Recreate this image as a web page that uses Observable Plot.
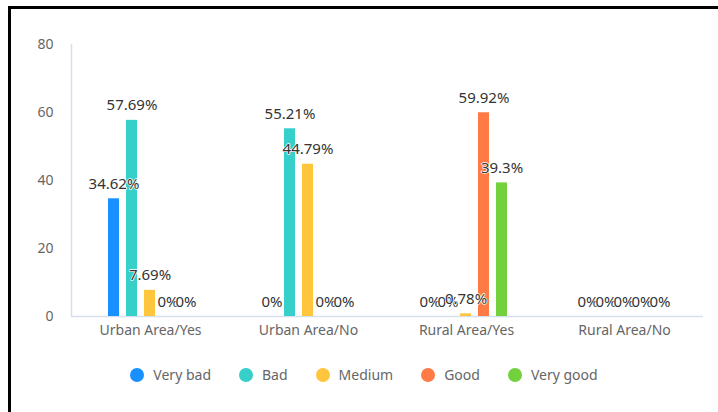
<!DOCTYPE html>
<html>
<head>
<meta charset="utf-8">
<script src="https://cdn.jsdelivr.net/npm/d3@7"></script>
<script src="https://cdn.jsdelivr.net/npm/@observablehq/plot@0.6"></script>
<style>
  html, body { margin: 0; padding: 0; background: #fff; }
  #wrap { position: relative; width: 718px; height: 412px; overflow: hidden; font-family: "Noto Sans", sans-serif; }
  #border { position: absolute; left: 8px; top: 6px; right: -10px; bottom: -10px; border-top: 3px solid #000; border-left: 3px solid #000; }
  #chart { position: absolute; left: 0; top: 0; }
  #legend { position: absolute; left: 10px; top: 365px; width: 708px; display: flex; justify-content: center; align-items: center; font-size: 14px; color: #666; }
  .item { display: flex; align-items: center; margin: 0 14px; }
  .sw { width: 14px; height: 14px; border-radius: 50%; margin-right: 9px; }
</style>
</head>
<body>
<div id="wrap">
  <div id="border"></div>
  <div id="chart"></div>
  <div id="legend"></div>
</div>
<script>
const groups = ["Urban Area/Yes", "Urban Area/No", "Rural Area/Yes", "Rural Area/No"];
const series = ["Very bad", "Bad", "Medium", "Good", "Very good"];
const colors = ["#1890ff", "#36cfc9", "#ffc53d", "#ff7a45", "#73d13d"];
const veryBad = [34.62, 0, 0, 0];
const bad = [57.69, 55.21, 0, 0];
const medium = [7.69, 44.79, 0.78, 0];
const good = [0, 0, 59.92, 0];
const veryGood = [0, 0, 39.3, 0];
const yTicks = [0, 20, 40, 60, 80];

const seriesValues = [veryBad, bad, medium, good, veryGood];
const data = groups.flatMap((g, i) => series.map((s, j) => ({group: g, series: s, value: seriesValues[j][i]})));

const chart = Plot.plot({
  width: 718,
  height: 350,
  marginTop: 44,
  marginBottom: 34,
  marginLeft: 69,
  marginRight: 14,
  style: {fontFamily: "'Noto Sans', sans-serif", fontSize: "14px", background: "transparent", overflow: "visible"},
  fx: {domain: groups, padding: 0, label: null, axis: null},
  x: {domain: series, axis: null, paddingInner: 0.368, paddingOuter: 1.868},
  y: {domain: [0, 80], axis: null},
  color: {domain: series, range: colors},
  marks: [
    Plot.ruleY([0], {stroke: "#d6def0", strokeWidth: 1.5}),
    Plot.frame({anchor: "left", facetAnchor: "left", stroke: "#d6def0", strokeWidth: 1.5}),
    Plot.axisY({ticks: yTicks, tickSize: 0, tickPadding: 18, fill: "#666", fontSize: 14, label: null}),
    Plot.axisFx({anchor: "bottom", tickSize: 0, tickPadding: 9, fill: "#666", fontSize: 14, label: null}),
    Plot.barY(data, {fx: "group", x: "series", y: "value", fill: "series"}),
    Plot.text(data, {fx: "group", x: "series", y: "value", text: d => d.value + "%", dy: -10, lineAnchor: "bottom", fill: "#333", stroke: "white", strokeWidth: 1.5, fontSize: 15})
  ]
});
document.getElementById("chart").appendChild(chart);

const legend = document.getElementById("legend");
series.forEach((s, i) => {
  const item = document.createElement("div");
  item.className = "item";
  const sw = document.createElement("span");
  sw.className = "sw";
  sw.style.background = colors[i];
  const t = document.createElement("span");
  t.textContent = s;
  item.appendChild(sw);
  item.appendChild(t);
  legend.appendChild(item);
});
</script>
</body>
</html>
